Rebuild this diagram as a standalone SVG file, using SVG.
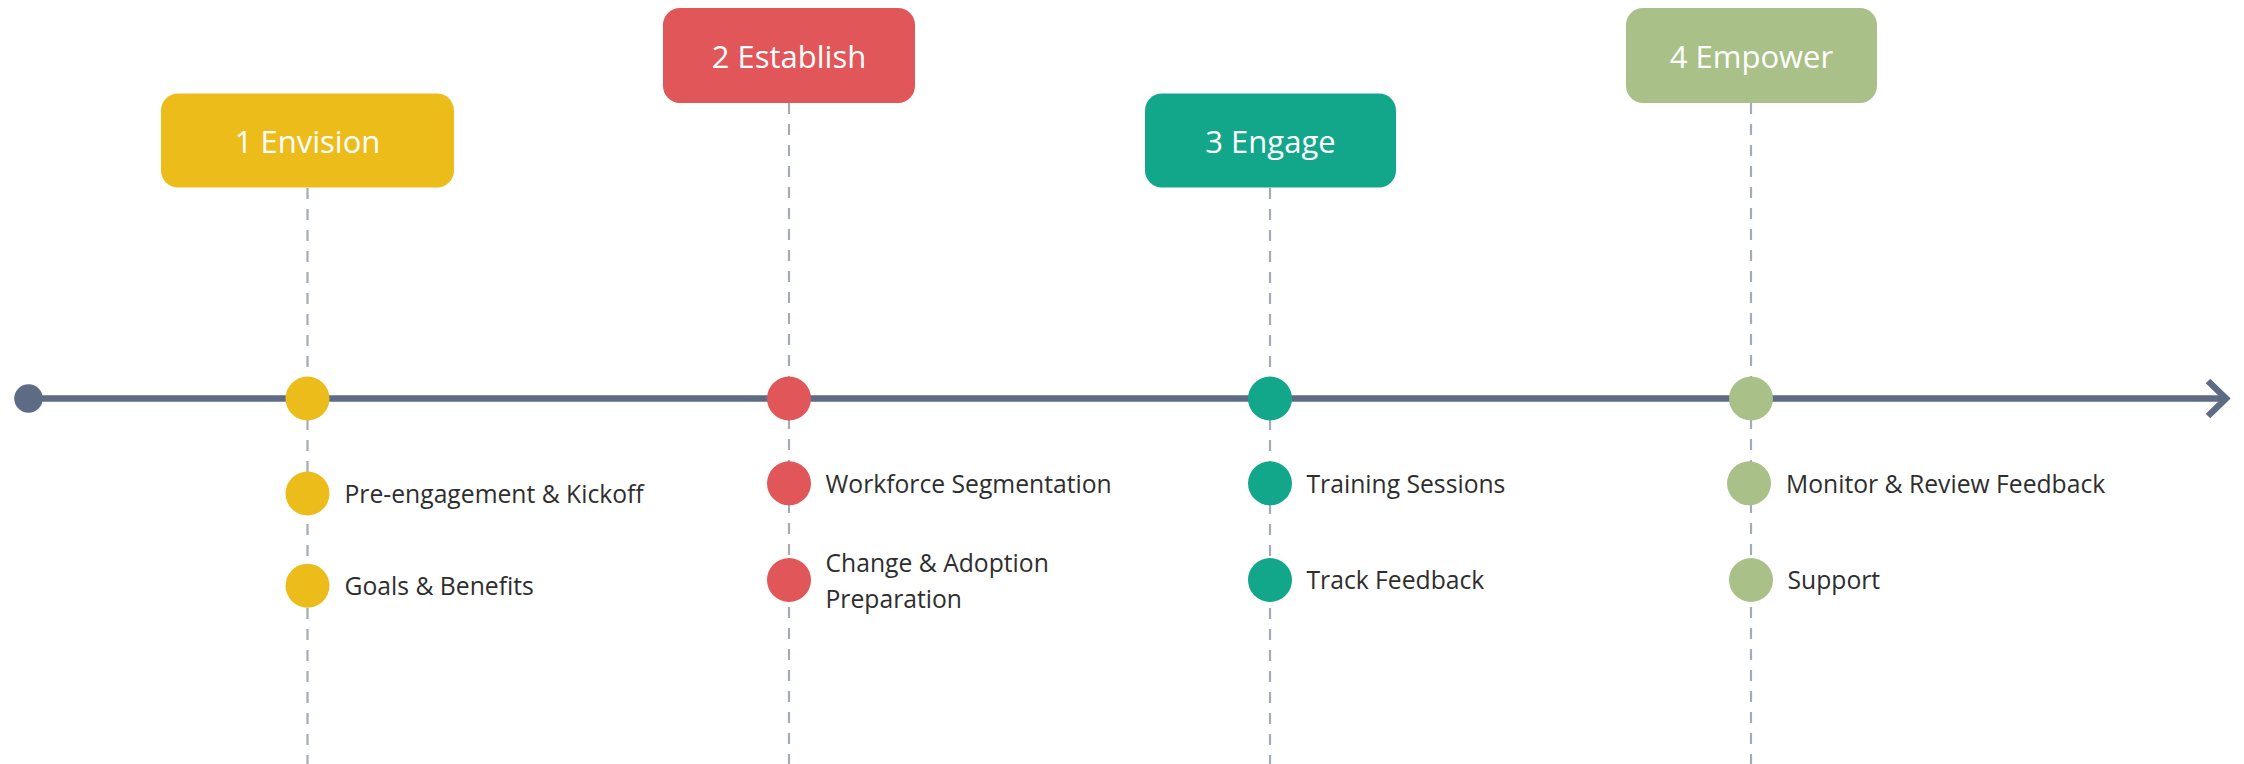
<svg xmlns="http://www.w3.org/2000/svg" width="2244" height="764" viewBox="0 0 2244 764">
<style>
.guide{stroke:#a3acb6;stroke-width:2.2;stroke-dasharray:11 10;fill:none}
.axis{stroke:#5d6b85;stroke-width:6.5;fill:none}
.head{fill:#ffffff;font-family:"Open Sans","Noto Sans","Liberation Sans",sans-serif;font-size:31px;text-anchor:middle}
.lbl{fill:#2e2e2e;font-family:"Open Sans","Noto Sans","Liberation Sans",sans-serif;font-size:24.7px}
.y{fill:#ecbc1b}.r{fill:#e05659}.t{fill:#12a78a}.g{fill:#a9c188}
</style>
<rect width="2244" height="764" fill="#ffffff"/>
<g id="connectors">
<line class="guide" x1="307.5" y1="188" x2="307.5" y2="764"/>
<line class="guide" x1="789" y1="103" x2="789" y2="764"/>
<line class="guide" x1="1270" y1="188" x2="1270" y2="764"/>
<line class="guide" x1="1751" y1="103" x2="1751" y2="764"/>
<line class="axis" x1="28" y1="398.5" x2="2226" y2="398.5"/>
<polyline class="axis" points="2208,381 2226,398.5 2208,416"/>
<circle cx="28.5" cy="398.5" r="14.3" fill="#5d6b85"/>
</g>
<g id="phase1">
<rect class="y" x="161" y="93.5" width="293" height="94" rx="17"/>
<text class="head" x="307.5" y="152.7">1 Envision</text>
<circle class="y" cx="307.5" cy="398.5" r="22"/>
</g>
<g id="phase1-items">
<circle class="y" cx="307.5" cy="493.5" r="22"/>
<text class="lbl" x="344.5" y="502.7">Pre-engagement &amp; Kickoff</text>
<circle class="y" cx="307.5" cy="585.7" r="22"/>
<text class="lbl" x="344.5" y="595">Goals &amp; Benefits</text>
</g>
<g id="phase2">
<rect class="r" x="663" y="8" width="252" height="95" rx="17"/>
<text class="head" x="789" y="67.7">2 Establish</text>
<circle class="r" cx="789" cy="398.5" r="22"/>
</g>
<g id="phase2-items">
<circle class="r" cx="789" cy="483.3" r="22"/>
<text class="lbl" x="825.5" y="493.3">Workforce Segmentation</text>
<circle class="r" cx="789" cy="580" r="22"/>
<text class="lbl" x="825.5" y="571.7">Change &amp; Adoption</text>
<text class="lbl" x="825.5" y="607.7">Preparation</text>
</g>
<g id="phase3">
<rect class="t" x="1145" y="93.5" width="251" height="94" rx="17"/>
<text class="head" x="1270.5" y="152.7">3 Engage</text>
<circle class="t" cx="1270" cy="398.5" r="22"/>
</g>
<g id="phase3-items">
<circle class="t" cx="1270" cy="483.3" r="22"/>
<text class="lbl" x="1306.5" y="493.3">Training Sessions</text>
<circle class="t" cx="1270" cy="580" r="22"/>
<text class="lbl" x="1306.5" y="589.3">Track Feedback</text>
</g>
<g id="phase4">
<rect class="g" x="1626" y="8" width="251" height="95" rx="17"/>
<text class="head" x="1751.5" y="67.7">4 Empower</text>
<circle class="g" cx="1751" cy="398.5" r="22"/>
</g>
<g id="phase4-items">
<circle class="g" cx="1749" cy="483.3" r="22"/>
<text class="lbl" x="1786" y="493.3">Monitor &amp; Review Feedback</text>
<circle class="g" cx="1751" cy="580" r="22"/>
<text class="lbl" x="1787.5" y="589.3">Support</text>
</g>
</svg>
